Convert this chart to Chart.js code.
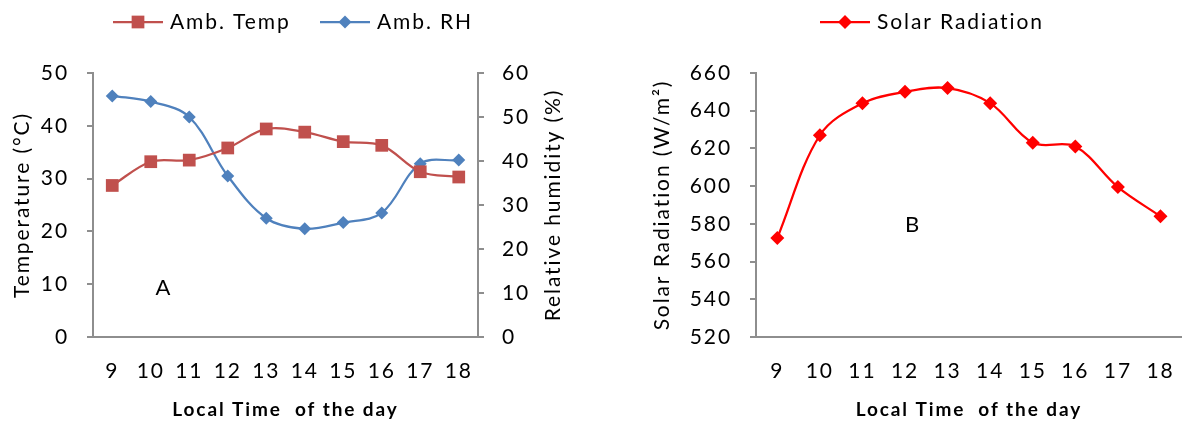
<!DOCTYPE html>
<html><head><meta charset="utf-8">
<script src="https://cdn.jsdelivr.net/npm/chart.js@4"></script>
<style>
html,body{margin:0;padding:0;background:#fff;}
#wrap{position:relative;width:1195px;height:425px;overflow:hidden;}
.box{position:absolute;top:0;height:425px;}
#b1{left:0;width:600px;}
#b2{left:640px;width:555px;}
</style></head><body>
<div id="wrap">
  <div class="box" id="b1"><canvas id="c1"></canvas></div>
  <div class="box" id="b2"><canvas id="c2"></canvas></div>
</div>
<script>
// ---- data ----
const hours = ['9','10','11','12','13','14','15','16','17','18'];
const ambTemp = [28.7, 33.2, 33.5, 35.8, 39.4, 38.8, 37.0, 36.3, 31.3, 30.3];
const ambRH = [54.8, 53.5, 50.0, 36.6, 27.0, 24.6, 26.0, 28.2, 39.4, 40.2];
const solarRad = [572.5, 627, 644, 650, 652, 644, 623, 621, 599.5, 584];
const tempTicks = [0, 50, 10];
const rhTicks = [0, 60, 10];
const solarTicks = [520, 660, 20];

// ---- styles ----
const FONT = 'Lato, "Liberation Sans", sans-serif';
const SPACING = '1.9px';
const AX = '#8e8e8e';
const TXT = '#000';
const tickFont = {family: FONT, size: 21};
const titleFont = {family: FONT, size: 21};
const xTitleFont = {family: FONT, size: 19, weight: 'bold'};

function drawMarker(ctx, style, x, y, r, color) {
  ctx.save();
  ctx.fillStyle = color;
  ctx.beginPath();
  if (style === 'rect') {
    const s = Math.SQRT1_2 * r;
    ctx.rect(x - s, y - s, 2 * s, 2 * s);
  } else {
    ctx.moveTo(x, y - r); ctx.lineTo(x + r, y); ctx.lineTo(x, y + r); ctx.lineTo(x - r, y); ctx.closePath();
  }
  ctx.fill();
  ctx.restore();
}

const excelDecor = {
  id: 'excelDecor',
  beforeDraw(chart) {
    chart.ctx.letterSpacing = SPACING;
  },
  afterDraw(chart, args, opts) {
    const ctx = chart.ctx;
    ctx.save();
    ctx.letterSpacing = SPACING;
    // legend
    (opts.legend || []).forEach(it => {
      const ds = chart.data.datasets[it.ds];
      ctx.strokeStyle = ds.borderColor;
      ctx.lineWidth = 2.25;
      ctx.beginPath();
      ctx.moveTo(it.x, opts.legendY); ctx.lineTo(it.x + 50, opts.legendY); ctx.stroke();
      drawMarker(ctx, ds.pointStyle, it.x + 25, opts.legendY, ds.pointRadius, ds.backgroundColor);
      ctx.fillStyle = TXT;
      ctx.font = `${titleFont.size}px ${FONT}`;
      ctx.textAlign = 'left'; ctx.textBaseline = 'middle';
      ctx.fillText(ds.label, it.x + 57, opts.legendY);
    });
    // annotation letter
    if (opts.letter) {
      ctx.fillStyle = TXT;
      ctx.font = `22px ${FONT}`;
      ctx.textAlign = 'center'; ctx.textBaseline = 'middle';
      ctx.fillText(opts.letter.text, opts.letter.x, opts.letter.y);
    }
    // right axis title (reads bottom to top)
    if (opts.rightTitle) {
      const ca = chart.chartArea;
      ctx.translate(opts.rightTitle.x, (ca.top + ca.bottom) / 2);
      ctx.rotate(-Math.PI / 2);
      ctx.fillStyle = TXT;
      ctx.font = `${titleFont.size}px ${FONT}`;
      ctx.textAlign = 'center'; ctx.textBaseline = 'middle';
      ctx.fillText(opts.rightTitle.text, 0, 0);
    }
    ctx.restore();
  }
};

function xAxis() {
  return {
    type: 'category', offset: true,
    grid: {display: true, drawOnChartArea: false, drawTicks: false, color: AX},
    border: {display: true, color: AX, width: 2},
    ticks: {color: TXT, font: tickFont, padding: 22, maxRotation: 0, autoSkip: false},
    title: {display: true, text: 'Local Time  of the day', color: TXT, font: xTitleFont, padding: {top: 0, bottom: 4}},
    afterFit(s) { s.height = 88; }
  };
}
function yAxis(pos, t, width, title) {
  return {
    position: pos, min: t[0], max: t[1],
    grid: {display: true, drawOnChartArea: false, drawTicks: true, tickLength: 6, color: AX, lineWidth: 2},
    border: {display: true, color: AX, width: 2},
    ticks: {stepSize: t[2], color: TXT, font: tickFont, padding: 18},
    title: title ? {display: true, text: title, color: TXT, font: titleFont, padding: {top: 10, bottom: 0}} : {display: false},
    afterFit(s) { s.width = width; }
  };
}

const common = {
  responsive: true, maintainAspectRatio: false, animation: false,
  elements: {line: {tension: 0.35, borderWidth: 2.25}},
};

new Chart(document.getElementById('c1'), {
  type: 'line',
  data: {
    labels: hours,
    datasets: [
      {label: 'Amb. Temp', data: ambTemp, yAxisID: 'y', borderColor: '#C0504D', backgroundColor: '#C0504D',
       pointStyle: 'rect', pointRadius: 9, pointBorderWidth: 0, fill: false},
      {label: 'Amb. RH', data: ambRH, yAxisID: 'y1', borderColor: '#4F81BD', backgroundColor: '#4F81BD',
       pointStyle: 'rectRot', pointRadius: 6.5, pointBorderWidth: 0, fill: false}
    ]
  },
  options: Object.assign({}, common, {
    layout: {padding: {top: 73, left: 0, right: 0, bottom: 0}},
    plugins: {
      legend: {display: false}, tooltip: {enabled: false},
      excelDecor: {legendY: 22, legend: [{ds: 0, x: 113}, {ds: 1, x: 320}],
        letter: {text: 'A', x: 164, y: 288},
        rightTitle: {text: 'Relative humidity (%)', x: 553}}
    },
    scales: {
      x: xAxis(),
      y: yAxis('left', tempTicks, 93, 'Temperature (°C)'),
      y1: yAxis('right', rhTicks, 122, null)
    }
  }),
  plugins: [excelDecor]
});

new Chart(document.getElementById('c2'), {
  type: 'line',
  data: {
    labels: hours,
    datasets: [
      {label: 'Solar Radiation', data: solarRad, yAxisID: 'y', borderColor: '#FF0000', backgroundColor: '#FF0000',
       pointStyle: 'rectRot', pointRadius: 7, pointBorderWidth: 0, fill: false}
    ]
  },
  options: Object.assign({}, common, {
    layout: {padding: {top: 73, left: 0, right: 0, bottom: 0}},
    plugins: {
      legend: {display: false}, tooltip: {enabled: false},
      excelDecor: {legendY: 22, legend: [{ds: 0, x: 180}],
        letter: {text: 'B', x: 273, y: 225}}
    },
    scales: {
      x: xAxis(),
      y: yAxis('left', solarTicks, 116, 'Solar Radiation (W/m²)')
    }
  }),
  plugins: [excelDecor]
});
</script>
</body></html>
